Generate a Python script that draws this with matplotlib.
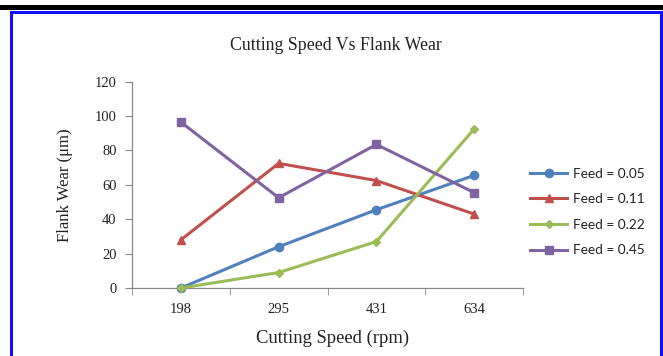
import matplotlib.pyplot as plt
from matplotlib.patches import Rectangle

# Data
speeds = ['198', '295', '431', '634']
feed_labels = ['Feed = 0.05', 'Feed = 0.11', 'Feed = 0.22', 'Feed = 0.45']
wear_005 = [0, 24, 45.5, 65.5]
wear_011 = [28, 72.5, 62.5, 43]
wear_022 = [0, 9, 27, 92.5]
wear_045 = [96.5, 52.5, 83.5, 55.5]

colors = ['#4F81BD', '#C0504D', '#9BBB59', '#8064A2']
markers = ['o', '^', 'D', 's']
sizes = [6, 6, 4, 6]

W, H = 663, 356
fig = plt.figure(figsize=(W / 100, H / 100), dpi=100)
fig.patch.set_facecolor('white')

# black bar at top and blue frame round the chart
fig.patches.append(Rectangle((0, 1 - 10 / H), 1, 5 / H, transform=fig.transFigure,
                             facecolor='black', edgecolor='none'))
fig.patches.append(Rectangle((11 / W, -0.05), (660.5 - 11) / W, 1.05 - 12 / H,
                             transform=fig.transFigure, fill=False,
                             edgecolor='#1010FF', linewidth=2.2))

ax = fig.add_axes([132 / W, 1 - 288 / H, (523 - 132) / W, (288 - 81.7) / H])

x = range(len(speeds))
for vals, c, m, s, lab in zip([wear_005, wear_011, wear_022, wear_045],
                              colors, markers, sizes, feed_labels):
    ax.plot(x, vals, color=c, marker=m, markersize=s, linewidth=2.2,
            label=lab, clip_on=False, zorder=3)

ax.set_xlim(-0.5, len(speeds) - 0.5)
ax.set_ylim(0, 120)
ax.set_yticks(range(0, 121, 20))
ax.set_xticks(list(x))
ax.set_xticklabels(speeds)
ax.set_xticks([i - 0.5 for i in range(len(speeds) + 1)], minor=True)

serif = 'Liberation Serif'
for lbl in ax.get_xticklabels() + ax.get_yticklabels():
    lbl.set_fontfamily(serif)
    lbl.set_fontsize(10.5)
    lbl.set_color('#222222')

ax.tick_params(axis='x', which='major', length=0, pad=11)
ax.tick_params(axis='x', which='minor', length=5, color='#888888', direction='out')
ax.tick_params(axis='y', length=5, color='#888888', direction='out', pad=6)

for side in ['top', 'right']:
    ax.spines[side].set_visible(False)
for side in ['left', 'bottom']:
    ax.spines[side].set_color('#888888')
    ax.spines[side].set_linewidth(0.9)

fig.text(336 / W, 1 - 45 / H, 'Cutting Speed Vs Flank Wear', ha='center', va='center',
         fontfamily=serif, fontsize=12.8, color='#222222')
fig.text(65 / W, 1 - 185 / H, 'Flank Wear (\u03bcm)', ha='center', va='center',
         rotation=90, fontfamily=serif, fontsize=12, color='#222222')
fig.text(333 / W, 1 - 338 / H, 'Cutting Speed (rpm)', ha='center', va='center',
         fontfamily=serif, fontsize=13.4, color='#222222')

leg = fig.legend(loc='center left', bbox_to_anchor=(525 / W, 1 - 212 / H),
                 frameon=False, prop={'family': 'Lato', 'size': 9.8},
                 handlelength=2.7, handletextpad=0.4, labelspacing=1.0,
                 borderaxespad=0)
for t in leg.get_texts():
    t.set_color('#222222')

fig.savefig('out.png', dpi=100)
